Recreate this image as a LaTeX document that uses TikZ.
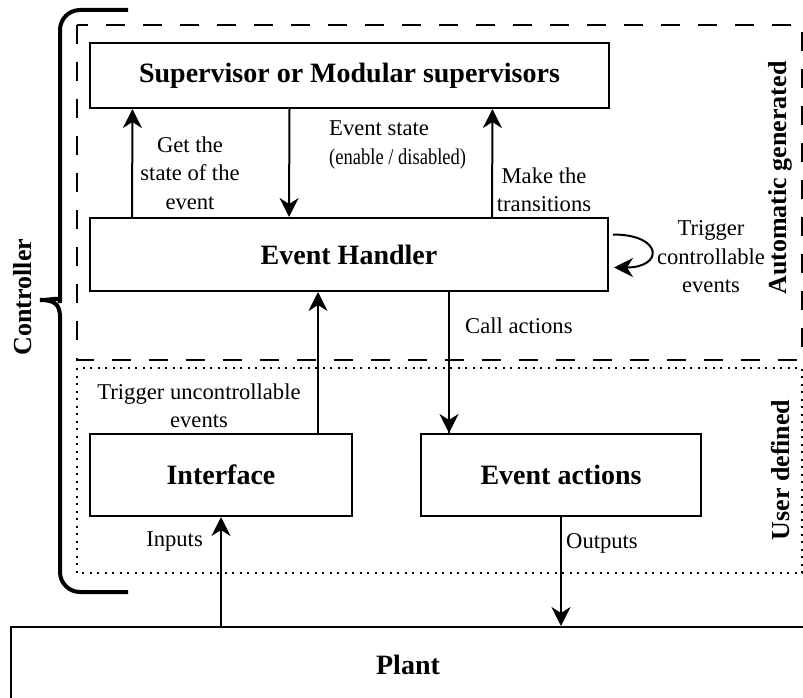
\documentclass[tikz,border=0pt]{standalone}
\usepackage{fontspec}
\setmainfont{Liberation Serif}
\usetikzlibrary{arrows.meta,calc}
\begin{document}
\begin{tikzpicture}[x=1pt,y=-1pt,
  box/.style={draw,line width=2pt,inner sep=0pt,font=\fontsize{28}{32}\selectfont\bfseries},
  lbl/.style={inner sep=0pt,align=center,font=\fontsize{22.6}{28.5}\selectfont},
  side/.style={inner sep=0pt,rotate=90,font=\fontsize{26}{30}\selectfont\bfseries},
  arr/.style={line width=2pt,-{Stealth[length=19pt,width=19pt,inset=6pt]}},
  autoregion/.style={line width=2pt,dash pattern=on 19pt off 18pt},
  userregion/.style={line width=2pt,dash pattern=on 2pt off 5.5pt},
  braceline/.style={line width=4pt}
]
\useasboundingbox (0,0) rectangle (803,698);
\clip (0,0) rectangle (803,698);

% regions
\draw[autoregion] (77,25) rectangle (802,360);
\draw[userregion] (77,368) rectangle (802,573);

% blocks
\node[box,minimum width=519pt,minimum height=65pt] (sup) at (349.5,75.5) {Supervisor or Modular supervisors};
\node[box,minimum width=518pt,minimum height=73pt] (eh) at (349,254.5) {Event Handler};
\node[box,minimum width=262pt,minimum height=82pt] (intf) at (221,475) {Interface};
\node[box,minimum width=280pt,minimum height=82pt] (ea) at (561,475) {Event actions};
\node[box,minimum width=794pt,minimum height=76pt] (plant) at (408,665) {Plant};

% connectors between supervisor and event handler
\draw[arr] ([xshift=-217pt]eh.north) -- ([xshift=-217pt]sup.south);
\draw[arr] ([xshift=-60pt]sup.south) -- ([xshift=-60pt]eh.north);
\draw[arr] ([xshift=143pt]eh.north) -- ([xshift=143pt]sup.south);
\draw[arr] ([shift={(4,-20)}]eh.east) .. controls +(50,0) and +(50,0) .. ([shift={(5,13)}]eh.east);

% connectors in the user-defined part
\draw[arr] ([xshift=97pt]intf.north) coordinate (up) -- (up |- eh.south);
\draw[arr] ([xshift=-112pt]ea.north) coordinate (dn) -- (dn |- eh.south) -- (dn);
\draw[arr] (plant.north -| intf.south) -- (intf.south);
\draw[arr] (ea.south) -- (ea.south |- plant.north);

% labels
\node[lbl] (l1) at (190,173) {Get the\\state of the\\event};
\node[lbl,align=left,anchor=west] (l2) at (329,145) {Event state\\\scalebox{0.82}[1]{(enable / disabled)}};
\node[lbl] (l3) at (544,190) {Make the\\transitions};
\node[lbl] (l4) at (711,257) {Trigger\\controllable\\events};
\node[lbl,anchor=west] (l5) at (465,326) {Call actions};
\node[lbl] (l6) at (199,406) {Trigger uncontrollable\\events};
\node[lbl,anchor=east] (l7) at (203,542) {Inputs};
\node[lbl,anchor=west] (l8) at (566,543) {Outputs};

% side titles
\node[side] (t1) at (780,178) {Automatic generated};
\node[side] (t2) at (780,470) {User defined};
\node[side] (t3) at (23,297) {Controller};

% brace round the controller
\draw[braceline] [rounded corners=20pt] (128,10) -- (60,10) -- (60,283)
  [sharp corners] .. controls (60,296) and (54,300) .. (40,300)
  .. controls (54,300) and (60,304) .. (60,317)
  [rounded corners=20pt] -- (60,592) -- (128,592);
\end{tikzpicture}
\end{document}
